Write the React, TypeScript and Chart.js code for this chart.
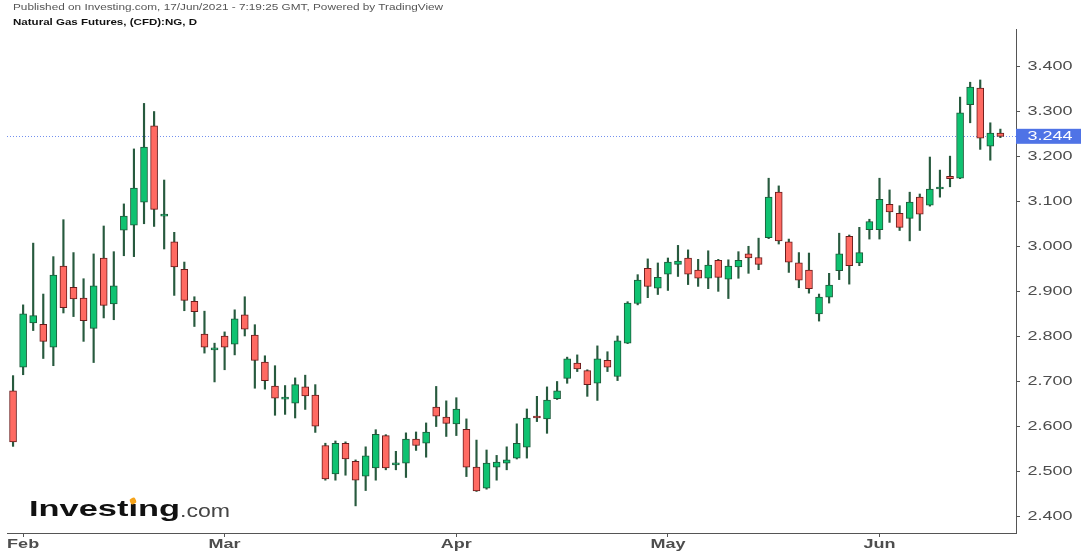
import React, { useEffect, useRef } from 'react';
import { Chart, registerables } from 'chart.js';

Chart.register(...registerables);

// ---- data (daily candles, 29 Jan 2021 .. 17 Jun 2021) ----
const opens = [
  2.679, 2.732, 2.830, 2.827, 2.776, 2.956, 2.909, 2.885, 2.818, 2.974,
  2.872, 3.036, 3.047, 3.098, 3.267, 3.067, 3.010, 2.949, 2.878, 2.805,
  2.770, 2.801, 2.783, 2.848, 2.803, 2.743, 2.690, 2.661, 2.652, 2.688,
  2.670, 2.558, 2.495, 2.563, 2.523, 2.490, 2.508, 2.580, 2.515, 2.519,
  2.572, 2.563, 2.643, 2.621, 2.606, 2.594, 2.510, 2.463, 2.510, 2.519,
  2.530, 2.554, 2.621, 2.617, 2.662, 2.707, 2.741, 2.724, 2.696, 2.747,
  2.711, 2.785, 2.873, 2.951, 2.907, 2.938, 2.960, 2.974, 2.947, 2.929,
  2.969, 2.927, 2.954, 2.983, 2.975, 3.019, 3.120, 3.010, 2.963, 2.947,
  2.850, 2.887, 2.946, 3.022, 2.963, 3.037, 3.037, 3.093, 3.073, 3.062,
  3.109, 3.091, 3.127, 3.155, 3.151, 3.314, 3.351, 3.222, 3.251,
];
const highs = [
  2.713, 2.870, 3.007, 2.894, 2.977, 3.059, 2.986, 2.928, 2.983, 3.045,
  2.988, 3.094, 3.216, 3.317, 3.299, 3.147, 3.031, 2.965, 2.888, 2.856,
  2.785, 2.810, 2.859, 2.888, 2.826, 2.757, 2.735, 2.691, 2.708, 2.714,
  2.693, 2.563, 2.568, 2.566, 2.526, 2.555, 2.593, 2.582, 2.545, 2.586,
  2.588, 2.608, 2.689, 2.657, 2.664, 2.617, 2.570, 2.548, 2.536, 2.555,
  2.606, 2.639, 2.667, 2.688, 2.700, 2.754, 2.759, 2.726, 2.779, 2.766,
  2.801, 2.877, 2.937, 2.972, 2.963, 2.974, 3.002, 2.992, 2.971, 2.990,
  2.971, 2.970, 2.988, 3.000, 3.018, 3.151, 3.134, 3.016, 2.986, 2.985,
  2.894, 2.940, 3.029, 3.025, 3.042, 3.060, 3.151, 3.125, 3.090, 3.120,
  3.116, 3.198, 3.169, 3.200, 3.331, 3.364, 3.369, 3.274, 3.260,
];
const lows = [
  2.556, 2.715, 2.813, 2.751, 2.735, 2.852, 2.844, 2.789, 2.742, 2.841,
  2.837, 2.979, 2.977, 3.050, 3.044, 2.994, 2.891, 2.857, 2.822, 2.763,
  2.699, 2.726, 2.759, 2.801, 2.685, 2.683, 2.625, 2.627, 2.619, 2.638,
  2.587, 2.481, 2.481, 2.492, 2.424, 2.458, 2.481, 2.504, 2.504, 2.487,
  2.547, 2.532, 2.600, 2.578, 2.580, 2.489, 2.456, 2.461, 2.481, 2.504,
  2.528, 2.530, 2.611, 2.585, 2.660, 2.696, 2.722, 2.667, 2.658, 2.722,
  2.702, 2.784, 2.870, 2.886, 2.893, 2.902, 2.933, 2.915, 2.911, 2.906,
  2.900, 2.884, 2.929, 2.940, 2.948, 3.017, 3.005, 2.942, 2.908, 2.896,
  2.834, 2.874, 2.926, 2.916, 2.957, 3.016, 3.016, 3.053, 3.035, 3.012,
  3.035, 3.089, 3.109, 3.132, 3.150, 3.274, 3.215, 3.191, 3.241,
];
const closes = [
  2.566, 2.850, 2.846, 2.789, 2.936, 2.864, 2.883, 2.835, 2.912, 2.869,
  2.912, 3.067, 3.129, 3.220, 3.082, 3.069, 2.954, 2.880, 2.855, 2.776,
  2.772, 2.776, 2.839, 2.816, 2.747, 2.702, 2.663, 2.663, 2.693, 2.668,
  2.601, 2.484, 2.563, 2.528, 2.481, 2.535, 2.583, 2.508, 2.517, 2.572,
  2.558, 2.588, 2.623, 2.607, 2.639, 2.510, 2.457, 2.519, 2.521, 2.526,
  2.563, 2.619, 2.619, 2.659, 2.679, 2.750, 2.728, 2.693, 2.750, 2.732,
  2.790, 2.874, 2.925, 2.911, 2.931, 2.965, 2.967, 2.938, 2.929, 2.958,
  2.931, 2.956, 2.969, 2.974, 2.960, 3.109, 3.012, 2.965, 2.925, 2.906,
  2.887, 2.914, 2.983, 2.957, 2.986, 3.055, 3.104, 3.076, 3.042, 3.098,
  3.071, 3.127, 3.129, 3.150, 3.296, 3.353, 3.240, 3.251, 3.244,
];
const monthTickIndex = [1, 21, 44, 65, 86];
const monthLabels = ['Feb', 'Mar', 'Apr', 'May', 'Jun'];
const priceTicks = [2.4, 2.5, 2.6, 2.7, 2.8, 2.9, 3.0, 3.1, 3.2, 3.3, 3.4];
const lastPrice = 3.244;
const titleLine1 = 'Published on Investing.com, 17/Jun/2021 - 7:19:25 GMT, Powered by TradingView';
const titleLine1Prefix = 'Published on Investing.com, 17/Jun/2021 - 7:19:25 GMT, ';
const titleLine2 = 'Natural Gas Futures, (CFD):NG, D';

// ---- styling ----
const FONT = '"Liberation Sans", Arial, sans-serif';
const GREEN = '#0fc271';
const GREEN_BORDER = '#1d5a3a';
const RED = '#ff6a62';
const RED_BORDER = '#6a1c1c';
const WICK = '#275a3e';
const AXIS = '#555555';
const LABEL = '#4d4d4d';
const TAG = '#4f73e6';

let measureCtx: CanvasRenderingContext2D | null = null;
function measure(text: string, font: string): number {
  if (!measureCtx) measureCtx = document.createElement('canvas').getContext('2d');
  measureCtx!.font = font;
  return measureCtx!.measureText(text).width;
}

function Stretch(props: {
  text: string; left: number; top: number; width: number; size: number;
  weight?: string; color: string; fitText?: string;
}) {
  const { text, left, top, width, size, weight = 'normal', color, fitText } = props;
  const font = `${weight} ${size}px ${FONT}`;
  const sx = width / measure(fitText ?? text, font);
  return (
    <div
      style={{
        position: 'absolute', left, top, whiteSpace: 'nowrap',
        fontFamily: FONT, fontSize: size, fontWeight: weight as any, lineHeight: `${size}px`,
        color, transform: `scaleX(${sx})`, transformOrigin: '0 0',
      }}
    >
      {text}
    </div>
  );
}

function Logo() {
  const f1 = `bold 22px ${FONT}`;
  const sx = 151 / measure('Investing', f1);
  const dotX = 29 + sx * (measure('Invest', f1) + measure('i', f1) / 2);
  return (
    <>
      <Stretch text="Investing" left={29} top={497.8} width={151} size={22} weight="bold" color="#111111" />
      <div
        style={{
          position: 'absolute', left: dotX - 3, top: 497.5, width: 6, height: 6,
          background: '#f5a31a', borderRadius: 2, transform: 'rotate(-25deg)',
        }}
      />
      <Stretch text=".com" left={180} top={501.5} width={50} size={18} color="#444444" />
    </>
  );
}

const overlayPlugin = {
  id: 'overlayPlugin',
  beforeDatasetsDraw(chart: any) {
    const { ctx, chartArea } = chart;
    const ys = chart.scales.y;
    const py = Math.round(ys.getPixelForValue(lastPrice)) + 0.5;
    ctx.save();
    ctx.strokeStyle = 'rgba(90,125,235,0.85)';
    ctx.lineWidth = 1;
    ctx.setLineDash([1, 2]);
    ctx.beginPath();
    ctx.moveTo(chartArea.left, py);
    ctx.lineTo(chartArea.right, py);
    ctx.stroke();
    ctx.restore();
  },
  afterDraw(chart: any) {
    const { ctx } = chart;
    const ys = chart.scales.y;
    const xs = chart.scales.x;
    ctx.save();
    // y labels
    ctx.font = `12px ${FONT}`;
    ctx.textBaseline = 'middle';
    ctx.textAlign = 'left';
    const ySx = 45 / ctx.measureText('3.400').width;
    ctx.fillStyle = LABEL;
    ys.ticks.forEach((t: any) => {
      const py = ys.getPixelForValue(t.value);
      ctx.save();
      ctx.translate(ys.left + 11.5, py + 0.5);
      ctx.scale(ySx, 1);
      ctx.fillText(Number(t.value).toFixed(3), 0, 0);
      ctx.restore();
    });
    // last price tag
    const pp = ys.getPixelForValue(lastPrice);
    ctx.fillStyle = TAG;
    ctx.fillRect(ys.left, pp - 7.5, 65, 15);
    ctx.fillStyle = '#ffffff';
    ctx.save();
    ctx.translate(ys.left + 11.5, pp + 0.5);
    ctx.scale(ySx, 1);
    ctx.fillText(lastPrice.toFixed(3), 0, 0);
    ctx.restore();
    // x labels
    ctx.font = `bold 12px ${FONT}`;
    ctx.textAlign = 'center';
    const xSx = 32 / ctx.measureText('Feb').width;
    ctx.fillStyle = LABEL;
    xs.ticks.forEach((t: any) => {
      const k = monthTickIndex.indexOf(t.value);
      if (k < 0) return;
      const px = xs.getPixelForValue(t.value);
      ctx.save();
      ctx.translate(px, xs.top + 11.5);
      ctx.scale(xSx, 1);
      ctx.fillText(monthLabels[k], 0, 0);
      ctx.restore();
    });
    ctx.restore();
  },
};

export default function App() {
  const ref = useRef<HTMLCanvasElement | null>(null);

  useEffect(() => {
    if (!ref.current) return;
    const up = closes.map((c, i) => c >= opens[i]);
    const chart = new Chart(ref.current, {
      type: 'bar',
      data: {
        datasets: [
          {
            label: 'wick',
            data: highs.map((h, i) => ({ x: i, y: [lows[i], h] })) as any,
            backgroundColor: WICK,
            borderWidth: 0,
            barThickness: 1.5,
            grouped: false,
            order: 2,
          } as any,
          {
            label: 'body',
            data: opens.map((o, i) => ({ x: i, y: [o, closes[i]] })) as any,
            backgroundColor: up.map((u) => (u ? GREEN : RED)),
            borderColor: up.map((u) => (u ? GREEN_BORDER : RED_BORDER)),
            borderWidth: 1,
            borderSkipped: false,
            barThickness: 7,
            minBarLength: 2,
            grouped: false,
            order: 1,
          } as any,
        ],
      },
      options: {
        animation: false,
        responsive: false,
        maintainAspectRatio: false,
        devicePixelRatio: 1,
        layout: { padding: { left: 7, top: 29, right: 0, bottom: 0 } },
        plugins: { legend: { display: false }, tooltip: { enabled: false } },
        events: [],
        scales: {
          x: {
            type: 'linear',
            min: -0.6,
            max: 99.55,
            offset: false,
            afterBuildTicks: (s: any) => { s.ticks = monthTickIndex.map((v) => ({ value: v })); },
            afterFit: (s: any) => { s.height = 22; },
            grid: { offset: false, drawOnChartArea: false, drawTicks: true, tickLength: 4, color: AXIS },
            border: { display: true, color: AXIS, width: 1 },
            ticks: { display: false },
          },
          y: {
            type: 'linear',
            position: 'right',
            min: 2.3638,
            max: 3.4821,
            afterBuildTicks: (s: any) => { s.ticks = priceTicks.map((v) => ({ value: v })); },
            afterFit: (s: any) => { s.width = 71; },
            grid: { offset: false, drawOnChartArea: false, drawTicks: true, tickLength: 4, color: AXIS },
            border: { display: true, color: AXIS, width: 1 },
            ticks: { display: false },
          },
        },
      } as any,
      plugins: [overlayPlugin],
    });
    return () => chart.destroy();
  }, []);

  return (
    <div
      style={{
        position: 'fixed', left: 0, top: 0, width: 1087, height: 555,
        background: '#ffffff', overflow: 'hidden',
      }}
    >
      <canvas
        ref={ref}
        width={1087}
        height={555}
        style={{ position: 'absolute', left: 0, top: 0, width: 1087, height: 555 }}
      />
      <Stretch
        text={titleLine1}
        fitText={titleLine1Prefix}
        left={12.7}
        top={3.1}
        width={300}
        size={8.5}
        color="#555555"
      />
      <Stretch
        text={titleLine2}
        left={12.7}
        top={18.1}
        width={184}
        size={8.5}
        weight="bold"
        color="#111111"
      />
      <Logo />
    </div>
  );
}
